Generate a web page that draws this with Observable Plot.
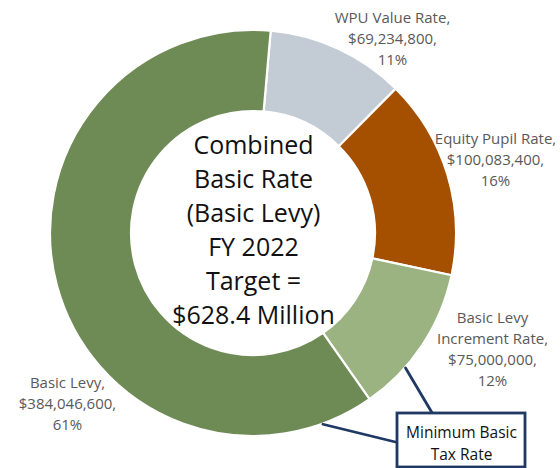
<!DOCTYPE html>
<html>
<head>
<meta charset="utf-8">
<script src="https://cdn.jsdelivr.net/npm/d3@7"></script>
<script src="https://cdn.jsdelivr.net/npm/@observablehq/plot@0.6"></script>
<style>
  html, body { margin: 0; padding: 0; background: #fff; }
  #chart svg { display: block; }
</style>
</head>
<body>
<div id="chart"></div>
<script>
// ---- data ----
const categories = ["WPU Value Rate", "Equity Pupil Rate", "Basic Levy\nIncrement Rate", "Basic Levy"];
const values = [69234800, 100083400, 75000000, 384046600];
const colors = ["#C3CBD4", "#A45000", "#9AB381", "#6E8B56"];
const centerTitle = "Combined\nBasic Rate\n(Basic Levy)\nFY 2022\nTarget =\n$628.4 Million";
const calloutText = "Minimum Basic\nTax Rate";

// ---- layout (pixels relative to donut centre, y up) ----
const W = 560, H = 468;
const cx = 253, cy = 233;
const outerR = 203, innerR = 122;
const startDeg = 5;
const labelAnchors = [[139, 196], [242, 75], [239, -114], [-186, -169]];
const calloutBox = {x1: 144, x2: 272, y1: -180, y2: -234};
const calloutTextPos = [208, -208];
const leaders = [{deg: 131.5, to: [179, -180]}, {deg: 160, to: [144, -209]}];

const total = d3.sum(values);
const fmt = d3.format(",");
const slices = categories.map((c, i) => ({
  name: c, value: values[i], color: colors[i],
  label: `${c},\n$${fmt(values[i])},\n${Math.round(values[i] / total * 100)}%`,
  lx: labelAnchors[i][0], ly: labelAnchors[i][1]
}));

const rad = d => d * Math.PI / 180;
const pie = d3.pie().sort(null).value(d => d.value)
  .startAngle(rad(startDeg)).endAngle(rad(startDeg + 360));
const arcs = pie(slices);

const leaderPts = leaders.flatMap((l, i) => [
  {k: i, x: outerR * Math.sin(rad(l.deg)), y: outerR * Math.cos(rad(l.deg))},
  {k: i, x: l.to[0], y: l.to[1]}
]);

function donut(index, scales) {
  const X = scales.x, Y = scales.y;
  const k = X(1) - X(0);
  const g = d3.create("svg:g").attr("transform", `translate(${X(0)},${Y(0)})`);
  const arc = d3.arc().innerRadius(innerR * k).outerRadius(outerR * k);
  g.selectAll("path").data(arcs).join("path")
    .attr("d", arc)
    .attr("fill", d => d.data.color)
    .attr("stroke", "#fff")
    .attr("stroke-width", 2.2)
    .attr("stroke-linejoin", "round");
  return g.node();
}

const chart = Plot.plot({
  width: W, height: H,
  margin: 0,
  x: {domain: [-cx, W - cx], axis: null},
  y: {domain: [cy - H, cy], axis: null},
  style: {fontFamily: "'Open Sans', sans-serif", background: "#fff"},
  marks: [
    donut,
    Plot.line(leaderPts, {x: "x", y: "y", z: "k", stroke: "#1F3864", strokeWidth: 2.8}),
    Plot.rect([calloutBox], {x1: "x1", x2: "x2", y1: "y1", y2: "y2", fill: "#fff", stroke: "#1F3864", strokeWidth: 2.8}),
    Plot.text([calloutText], {x: () => calloutTextPos[0], y: () => calloutTextPos[1], text: d => d, fontSize: 15.5, fill: "#111", lineHeight: 1.42}),
    Plot.text(slices, {x: "lx", y: "ly", text: "label", fontSize: 15, fill: "#595959", lineHeight: 1.4}),
    Plot.text([centerTitle], {x: () => 0, y: () => 5.5, text: d => d, fontSize: 25, fill: "#111", lineHeight: 1.36})
  ]
});
document.getElementById("chart").appendChild(chart);
</script>
</body>
</html>
